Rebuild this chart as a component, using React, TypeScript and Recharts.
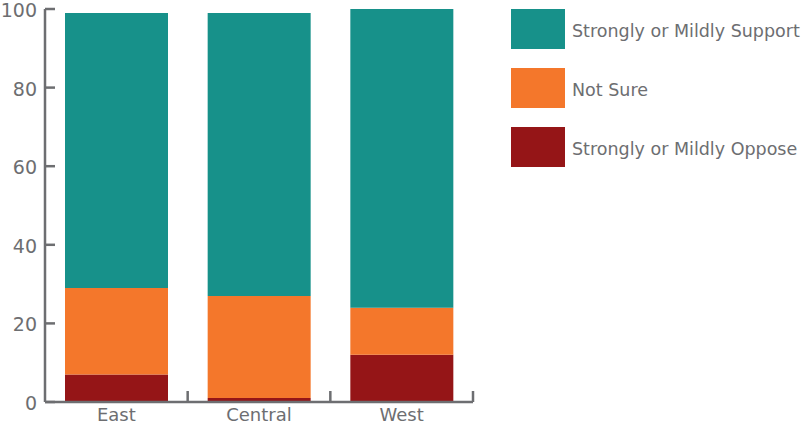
import React from 'react';
import { BarChart, Bar, XAxis, YAxis } from 'recharts';

const regions = ['East', 'Central', 'West'];
const oppose = [7, 1, 12];
const notSure = [22, 26, 12];
const support = [70, 72, 76];
const yTicks = [0, 20, 40, 60, 80, 100];

const SERIES = [
  { key: 'support', name: 'Strongly or Mildly Support', color: '#17918a' },
  { key: 'notSure', name: 'Not Sure', color: '#f4772b' },
  { key: 'oppose', name: 'Strongly or Mildly Oppose', color: '#951517' }
];

const data = regions.map((region, i) => ({
  region,
  oppose: oppose[i],
  notSure: notSure[i],
  support: support[i]
}));

const FONT = '"DejaVu Sans", sans-serif';
const GREY = '#6d6e71';
const AXIS = '#6d6e71';
const PLOT_W = 428;
const BAND = PLOT_W / regions.length;

// category label plus an upward tick at the right edge of each band
const XTick = (props: any) => {
  const { x, y, payload } = props;
  return (
    <g>
      <line x1={x + BAND / 2} x2={x + BAND / 2} y1={y} y2={y - 11} stroke={AXIS} strokeWidth={2.5} />
      <text x={x} y={y + 19} textAnchor="middle" fill={GREY} fontSize={18} fontFamily={FONT}>
        {payload.value}
      </text>
    </g>
  );
};

// value label plus an inward tick
const YTick = (props: any) => {
  const { x, y, payload } = props;
  return (
    <g>
      <line x1={x + 8} x2={x + 18} y1={y} y2={y} stroke={AXIS} strokeWidth={2.5} />
      <text x={x} y={y + 8} textAnchor="end" fill={GREY} fontSize={19} fontFamily={FONT}>
        {payload.value}
      </text>
    </g>
  );
};

const LegendBox = () => (
  <div style={{ position: 'absolute', left: 511, top: 9, fontFamily: FONT }}>
    {SERIES.map((s) => (
      <div key={s.key} style={{ display: 'flex', alignItems: 'center', height: 40, marginBottom: 19 }}>
        <div style={{ width: 54, height: 40, background: s.color }} />
        <span style={{ marginLeft: 7, marginTop: 3, color: GREY, fontSize: 17.5, whiteSpace: 'nowrap' }}>{s.name}</span>
      </div>
    ))}
  </div>
);

export default function App() {
  return (
    <div style={{ position: 'absolute', left: 0, top: 0, width: 803, height: 425, background: '#fff' }}>
      <BarChart width={803} height={425} data={data} margin={{ top: 9, right: 330, left: 0, bottom: 0 }}>
        <XAxis
          dataKey="region"
          height={23}
          tick={<XTick />}
          tickLine={false}
          tickSize={0}
          tickMargin={0}
          axisLine={{ stroke: AXIS, strokeWidth: 2.5 }}
          interval={0}
        />
        <YAxis
          width={45}
          domain={[0, 100]}
          ticks={yTicks}
          tick={<YTick />}
          tickLine={false}
          tickSize={0}
          tickMargin={8}
          axisLine={{ stroke: AXIS, strokeWidth: 2.5 }}
        />
        <Bar dataKey="oppose" stackId="a" fill="#951517" barSize={103} isAnimationActive={false} />
        <Bar dataKey="notSure" stackId="a" fill="#f4772b" barSize={103} isAnimationActive={false} />
        <Bar dataKey="support" stackId="a" fill="#17918a" barSize={103} isAnimationActive={false} />
      </BarChart>
      <LegendBox />
    </div>
  );
}
